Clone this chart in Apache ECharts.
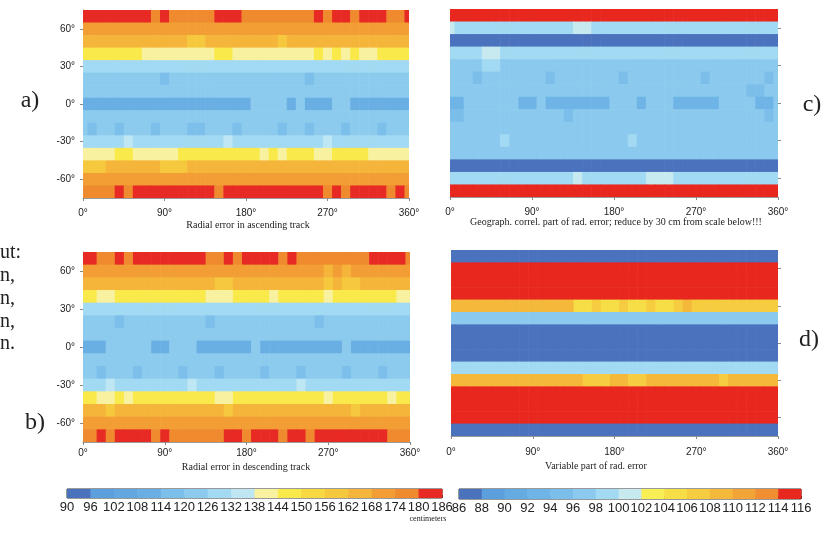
<!DOCTYPE html>
<html>
<head>
<meta charset="utf-8">
<script src="https://cdn.jsdelivr.net/npm/echarts@6/dist/echarts.min.js"></script>
<style>
  html, body { margin: 0; padding: 0; background: #fff; }
  #chart { width: 833px; height: 535px; }
</style>
</head>
<body>
<div id="chart"></div>
<script>
// Cell centres: longitude columns every 10 deg, latitude rows every 10 deg (north to south)
const lons = [0,10,20,30,40,50,60,70,80,90,100,110,120,130,140,150,160,170,180,190,200,210,220,230,240,250,260,270,280,290,300,310,320,330,340,350,360];
const lats = [70,60,50,40,30,20,10,0,-10,-20,-30,-40,-50,-60,-70];
const latTicks = [-60,-30,0,30,60];

// a) radial error, ascending track (cm)
const ascending = [
  [182,183,182,181,183,182,181,182,177,182,176,177,178,177,176,182,183,181,177,176,177,178,177,176,177,178,181,177,182,182,178,183,182,181,177,176,182],
  [171,170,171,172,171,170,171,172,171,170,171,172,171,171,170,171,172,171,170,171,172,171,170,171,171,172,171,170,171,172,171,170,171,171,172,171,171],
  [164,165,164,163,165,164,163,164,165,164,163,164,160,161,164,165,164,163,164,165,164,163,160,164,165,164,163,164,165,164,163,164,165,164,163,164,164],
  [147,148,147,146,147,148,147,142,141,142,143,142,141,142,143,147,148,142,141,142,143,142,141,142,143,142,147,142,148,142,147,142,141,147,148,147,147],
  [130,131,130,129,130,131,130,130,129,130,131,130,130,129,130,131,130,130,129,130,131,130,130,129,130,131,130,130,129,130,131,130,130,129,130,131,130],
  [123,122,121,123,122,121,123,122,121,118,122,121,123,122,121,123,122,121,123,122,121,123,122,121,123,118,121,123,122,121,123,122,121,123,122,121,123],
  [124,124,125,124,124,125,124,124,125,124,124,125,124,124,125,124,124,125,124,124,125,124,124,125,124,124,125,124,124,125,124,124,125,124,124,125,124],
  [111,110,112,111,110,111,112,110,111,112,111,110,111,112,110,111,112,111,110,121,122,121,122,111,121,110,111,112,121,122,111,110,112,111,110,111,112],
  [123,123,122,123,124,123,122,123,123,122,123,124,123,122,123,123,122,123,124,123,122,123,123,122,123,124,123,122,123,123,122,123,124,123,122,123,123],
  [121,118,121,121,118,121,121,121,118,121,121,121,118,118,121,121,121,118,121,121,121,121,118,121,121,118,121,121,121,118,121,121,121,118,121,121,121],
  [130,131,130,129,130,133,130,131,130,129,130,131,130,129,130,131,133,130,131,130,129,130,131,130,129,130,131,133,130,131,130,129,130,131,130,129,130],
  [142,141,142,143,147,148,142,141,142,143,142,147,148,147,146,147,148,147,146,147,143,147,142,147,148,147,142,141,147,148,147,146,142,141,142,143,142],
  [161,160,161,164,165,164,163,164,165,161,160,161,164,165,164,163,164,165,164,163,164,165,164,163,164,165,164,163,164,165,164,163,164,165,164,163,164],
  [171,170,171,172,171,170,171,172,171,170,171,172,171,171,170,171,172,171,170,171,172,171,170,171,171,172,171,170,171,172,171,170,171,171,172,171,171],
  [177,176,177,178,182,177,182,183,182,181,182,183,182,181,182,176,182,183,182,181,182,183,182,181,182,183,182,177,182,176,182,183,182,181,177,182,176]
];

// b) radial error, descending track (cm)
const descending = [
  [182,183,177,176,182,177,182,183,182,181,182,183,182,181,177,176,182,177,182,183,182,181,177,182,176,177,178,177,176,177,178,177,182,183,182,181,177],
  [171,170,171,172,171,170,171,172,171,170,171,172,171,171,170,171,172,171,170,171,172,171,170,171,171,172,171,166,171,166,171,170,171,171,172,171,171],
  [164,165,164,163,165,164,163,164,165,164,163,164,165,164,163,160,160,163,164,165,164,163,164,164,165,164,163,160,164,160,160,164,165,164,163,164,164],
  [147,148,142,141,147,148,147,146,147,148,147,146,147,148,142,141,142,147,148,147,146,142,147,148,147,146,147,142,147,148,147,146,147,148,147,142,141],
  [130,131,130,129,130,131,130,130,129,130,131,130,130,129,130,131,130,130,129,130,131,130,130,129,130,131,130,130,129,130,131,130,130,129,130,131,130],
  [122,121,123,122,118,121,123,122,121,123,122,121,123,122,118,121,123,122,121,123,122,121,123,122,121,123,118,121,123,122,121,123,122,121,123,122,121],
  [124,124,125,124,124,125,124,124,125,124,124,125,124,124,125,124,124,125,124,124,125,124,124,125,124,124,125,124,124,125,124,124,125,124,124,125,124],
  [111,110,112,121,122,121,122,121,111,112,121,122,121,111,110,112,111,110,111,121,111,112,110,111,112,111,110,111,112,121,111,110,112,111,110,111,112],
  [123,123,122,123,124,123,122,123,123,122,123,124,123,122,123,123,122,123,124,123,122,123,123,122,123,124,123,122,123,123,122,123,124,123,122,123,123],
  [121,121,118,121,121,121,118,121,121,121,121,118,121,121,121,118,121,121,121,121,118,121,121,121,118,121,121,121,121,118,121,121,121,118,121,121,121],
  [131,130,131,133,130,131,130,129,130,131,130,131,133,130,131,130,129,130,131,130,131,130,131,130,133,130,131,130,129,130,131,130,131,130,131,130,131],
  [147,148,142,141,147,142,147,146,147,148,147,146,147,148,147,142,141,147,148,147,146,147,148,147,146,147,148,142,147,148,147,146,147,148,142,147,148],
  [164,165,164,160,165,164,163,164,165,164,163,164,165,164,163,164,160,163,164,165,164,163,164,164,165,164,163,164,164,165,160,164,165,164,163,164,164],
  [171,170,171,172,171,170,171,172,171,170,171,172,171,171,170,171,172,171,170,171,172,171,170,171,171,172,171,170,171,172,171,170,171,171,172,171,171],
  [177,176,182,177,182,183,182,181,177,182,176,177,178,177,176,177,182,183,177,182,183,182,177,182,181,177,182,183,182,181,182,183,182,181,177,176,177]
];

// c) geographically correlated part of the radial error (cm, +30 offset)
const geoCorrelated = [
  [115,115,115,115,115,115,115,115,115,115,115,115,115,115,115,115,115,115,115,115,115,115,115,115,115,115,115,115,115,115,115,115,115,115,115,115,115],
  [100.5,99,99,99,99,99,99,99,99,99,99,99,99,99,101,101,99,99,99,99,99,99,99,99,99,99,99,99,99,99,99,99,99,99,99,99,99],
  [87,87,87,87,87,87,87,87,87,87,87,87,87,87,87,87,87,87,87,87,87,87,87,87,87,87,87,87,87,87,87,87,87,87,87,87,87],
  [98.5,98.5,98.5,98.5,101,101,98.5,98.5,98.5,98.5,98.5,98.5,98.5,98.5,98.5,98.5,98.5,98.5,98.5,98.5,98.5,98.5,98.5,98.5,98.5,98.5,98.5,98.5,98.5,98.5,98.5,98.5,98.5,98.5,98.5,98.5,98.5],
  [97,97,97,97,99,99,97,97,97,97,97,97,97,97,97,97,97,97,97,97,97,97,97,97,97,97,97,97,97,97,97,97,97,97,97,97,97],
  [97,97,97,95,97,97,97,97,97,97,97,95,97,97,97,97,97,97,97,95,97,97,97,97,97,97,97,97,95,97,97,97,97,97,97,95,97],
  [96.5,96.5,96.5,96.5,96.5,96.5,96.5,96.5,96.5,96.5,96.5,96.5,96.5,96.5,96.5,96.5,96.5,96.5,96.5,96.5,96.5,96.5,96.5,96.5,96.5,96.5,96.5,96.5,96.5,96.5,96.5,96.5,96.5,95,95,96.5,96.5],
  [93,93,97,97,97,97,97,97,93,93,97,93,93,93,93,93,93,93,97,97,97,93,97,97,97,93,93,93,93,93,97,97,97,97,93,93,97],
  [94.5,94.5,96.5,96.5,96.5,96.5,96.5,96.5,96.5,96.5,96.5,96.5,96.5,94.5,96.5,96.5,96.5,96.5,96.5,96.5,96.5,96.5,96.5,96.5,96.5,96.5,96.5,96.5,96.5,96.5,96.5,96.5,96.5,96.5,96.5,94.5,96.5],
  [97,97,97,97,97,97,97,97,97,97,97,97,97,97,97,97,97,97,97,97,97,97,97,97,97,97,97,97,97,97,97,97,97,97,97,97,97],
  [97.5,97.5,97.5,97.5,97.5,97.5,99,97.5,97.5,97.5,97.5,97.5,97.5,97.5,97.5,97.5,97.5,97.5,97.5,97.5,99,97.5,97.5,97.5,97.5,97.5,97.5,97.5,97.5,97.5,97.5,97.5,97.5,97.5,97.5,97.5,97.5],
  [97,97,97,97,97,97,97,97,97,97,97,97,97,97,97,97,97,97,97,97,97,97,97,97,97,97,97,97,97,97,97,97,97,97,97,97,97],
  [87,87,87,87,87,87,87,87,87,87,87,87,87,87,87,87,87,87,87,87,87,87,87,87,87,87,87,87,87,87,87,87,87,87,87,87,87],
  [99,99,99,99,99,99,99,99,99,99,99,99,99,99,101,99,99,99,99,99,99,99,101,101,101,99,99,99,99,99,99,99,99,99,99,99,99],
  [115,115,115,115,115,115,115,115,115,115,115,115,115,115,115,115,115,115,115,115,115,115,115,115,115,115,115,115,115,115,115,115,115,115,115,115,115]
];

// d) variable part of the radial error (cm)
const variablePart = [
  [87,87,87,87,87,87,87,87,87,87,87,87,87,87,87,87,87,87,87,87,87,87,87,87,87,87,87,87,87,87,87,87,87,87,87,87,87],
  [115,115,115,115,115,115,115,115,115,115,115,115,115,115,115,115,115,115,115,115,115,115,115,115,115,115,115,115,115,115,115,115,115,115,115,115,115],
  [115,115,115,115,115,115,115,115,115,115,115,115,115,115,115,115,115,115,115,115,115,115,115,115,115,115,115,115,115,115,115,115,115,115,115,115,115],
  [115,115,115,115,115,115,115,115,115,115,115,115,115,115,115,115,115,115,115,115,115,115,115,115,115,115,115,115,115,115,115,115,115,115,115,115,115],
  [109,109,109,109,109,109,109,109,109,109,109,109,109,109,105,105,106,105,105,106,105,105,106,105,105,106,109,107,106,107,106,107,106,107,106,107,106],
  [97,97,97,97,97,97,97,97,97,97,97,97,97,97,97,97,97,97,97,97,97,97,97,97,97,97,97,97,97,97,97,97,97,97,97,97,97],
  [87,87,87,87,87,87,87,87,87,87,87,87,87,87,87,87,87,87,87,87,87,87,87,87,87,87,87,87,87,87,87,87,87,87,87,87,87],
  [87,87,87,87,87,87,87,87,87,87,87,87,87,87,87,87,87,87,87,87,87,87,87,87,87,87,87,87,87,87,87,87,87,87,87,87,87],
  [87,87,87,87,87,87,87,87,87,87,87,87,87,87,87,87,87,87,87,87,87,87,87,87,87,87,87,87,87,87,87,87,87,87,87,87,87],
  [99,99,99,99,99,99,99,99,99,99,99,99,99,99,99,99,99,99,99,99,99,99,99,99,99,99,99,99,99,99,99,99,99,99,99,99,99],
  [109,109,109,109,109,109,109,109,109,109,109,109,109,109,109,107,107,107,109,109,107,107,109,109,109,109,109,109,109,109,107,109,109,109,109,109,109],
  [115,115,115,115,115,115,115,115,115,115,115,115,115,115,115,115,115,115,115,115,115,115,115,115,115,115,115,115,115,115,115,115,115,115,115,115,115],
  [115,115,115,115,115,115,115,115,115,115,115,115,115,115,115,115,115,115,115,115,115,115,115,115,115,115,115,115,115,115,115,115,115,115,115,115,115],
  [115,115,115,115,115,115,115,115,115,115,115,115,115,115,115,115,115,115,115,115,115,115,115,115,115,115,115,115,115,115,115,115,115,115,115,115,115],
  [87,87,87,87,87,87,87,87,87,87,87,87,87,87,87,87,87,87,87,87,87,87,87,87,87,87,87,87,87,87,87,87,87,87,87,87,87]
];

// Colour scales (class boundaries in cm)
const totalTicks = [90,96,102,108,114,120,126,132,138,144,150,156,162,168,174,180,186];
const totalColors = ['#4b72bd','#5b9fdc','#62a7e0','#6aafe3','#7bbfea','#8ccbee','#a2d9f3','#bfe6f3',
                     '#f7f1a0','#f9e94a','#f8d942','#f6c83e','#f5b53b','#f29e34','#ef8a2f','#e82a24'];
const variableTicks = [86,88,90,92,94,96,98,100,102,104,106,108,110,112,114,116];
const variableColors = ['#4b72bd','#5b9fdc','#64abe1','#6fb4e6','#7bbeea','#8bcaee','#a2d9f3','#c6eaf0',
                        '#f8ee55','#f8de46','#f6cc40','#f4b83b','#f2a436','#f08e31','#e8271f'];

function piecesFrom(ticks, colors) {
  return colors.map(function (c, i) {
    const p = { gte: ticks[i], color: c };
    if (i === colors.length - 1) p.lte = ticks[i + 1]; else p.lt = ticks[i + 1];
    return p;
  });
}
function cellsFrom(matrix) {
  const out = [];
  matrix.forEach(function (row, r) {
    row.forEach(function (v, c) { out.push([lons[c], lats[r], v]); });
  });
  return out;
}
function barCells(ticks) {
  const out = [];
  for (let i = 0; i < ticks.length - 1; i++) out.push([ticks[i], ticks[i + 1], (ticks[i] + ticks[i + 1]) / 2]);
  return out;
}

// each grid cell spans +-5 deg around its centre, clipped to the map frame
function renderCell(params, api) {
  const lon = api.value(0), lat = api.value(1);
  const p0 = api.coord([lon - 5, lat + 5]);
  const p1 = api.coord([lon + 5, lat - 5]);
  const cs = params.coordSys;
  const shape = echarts.graphic.clipRectByRect(
    { x: p0[0], y: p0[1], width: p1[0] - p0[0] + 0.6, height: p1[1] - p0[1] + 0.6 },
    { x: cs.x, y: cs.y, width: cs.width, height: cs.height });
  if (!shape) return;
  return { type: 'rect', shape: shape, style: { fill: api.visual('color') } };
}
function renderBarCell(params, api) {
  const p0 = api.coord([api.value(0), 1]);
  const p1 = api.coord([api.value(1), 0]);
  return { type: 'rect', shape: { x: p0[0], y: p0[1], width: p1[0] - p0[0] + 0.5, height: p1[1] - p0[1] },
           style: { fill: api.visual('color') } };
}

const tickFont = { fontFamily: 'Liberation Sans, Arial, sans-serif', fontSize: 10, color: '#222' };
const serif = 'Liberation Serif, Times New Roman, serif';

function lonAxis(gridIndex, margin) {
  return {
    type: 'value', gridIndex: gridIndex, min: 0, max: 360, interval: 90,
    axisLine: { show: true, onZero: false, lineStyle: { color: '#9a9a9a', width: 1 } },
    axisTick: { show: true, length: 3, lineStyle: { color: '#888' } },
    axisLabel: Object.assign({ margin: margin, formatter: '{value}°' }, tickFont),
    splitLine: { show: false }
  };
}
function latAxis(gridIndex, right) {
  return {
    type: 'value', gridIndex: gridIndex, min: -75, max: 75, position: right ? 'right' : 'left',
    axisLine: { show: !right, onZero: false, lineStyle: { color: '#9a9a9a', width: 1 } },
    axisTick: { show: true, length: 3, customValues: latTicks, lineStyle: { color: '#888' } },
    axisLabel: right ? { show: false } :
      Object.assign({ margin: 8, customValues: latTicks, formatter: '{value}°' }, tickFont),
    splitLine: { show: false }
  };
}
function barAxis(gridIndex, ticks) {
  return {
    type: 'value', gridIndex: gridIndex, min: ticks[0], max: ticks[ticks.length - 1],
    interval: ticks[1] - ticks[0],
    axisLine: { show: false, onZero: false },
    axisTick: { show: true, inside: true, length: 3, lineStyle: { color: '#333' } },
    axisLabel: { margin: 3, fontFamily: 'Liberation Sans, Arial, sans-serif', fontSize: 13, color: '#222' },
    splitLine: { show: false }
  };
}
function unitAxis(gridIndex) {
  return { type: 'value', gridIndex: gridIndex, min: 0, max: 1, show: false };
}
function text(x, y, str, size, align, family) {
  return { type: 'text', x: x, y: y, z: 10,
    style: { text: str, fontSize: size, fontFamily: family || serif, fill: '#222',
             align: align || 'center', verticalAlign: 'middle' } };
}

const chart = echarts.init(document.getElementById('chart'), null, { renderer: 'canvas' });
chart.setOption({
  backgroundColor: '#ffffff',
  animation: false,
  grid: [
    { left: 83, top: 10, width: 326, height: 188 },
    { left: 83, top: 252, width: 327, height: 190 },
    { left: 450, top: 9, width: 328, height: 188 },
    { left: 451, top: 250, width: 327, height: 186 },
    { left: 67, top: 489, width: 375, height: 9, show: true, borderColor: '#333', borderWidth: 1, backgroundColor: 'transparent' },
    { left: 459, top: 489, width: 342, height: 10, show: true, borderColor: '#333', borderWidth: 1, backgroundColor: 'transparent' }
  ],
  xAxis: [lonAxis(0, 10), lonAxis(1, 6), lonAxis(2, 10), lonAxis(3, 11), barAxis(4, totalTicks), barAxis(5, variableTicks)],
  yAxis: [latAxis(0, false), latAxis(1, false), latAxis(2, true), latAxis(3, true), unitAxis(4), unitAxis(5)],
  visualMap: [
    { type: 'piecewise', show: false, dimension: 2, seriesIndex: [0, 1, 4], pieces: piecesFrom(totalTicks, totalColors) },
    { type: 'piecewise', show: false, dimension: 2, seriesIndex: [2, 3, 5], pieces: piecesFrom(variableTicks, variableColors) }
  ],
  series: [
    { name: 'Radial error in ascending track', type: 'custom', xAxisIndex: 0, yAxisIndex: 0, renderItem: renderCell, data: cellsFrom(ascending) },
    { name: 'Radial error in descending track', type: 'custom', xAxisIndex: 1, yAxisIndex: 1, renderItem: renderCell, data: cellsFrom(descending) },
    { name: 'Geograph. correl. part', type: 'custom', xAxisIndex: 2, yAxisIndex: 2, renderItem: renderCell, data: cellsFrom(geoCorrelated) },
    { name: 'Variable part', type: 'custom', xAxisIndex: 3, yAxisIndex: 3, renderItem: renderCell, data: cellsFrom(variablePart) },
    { name: 'scale total', type: 'custom', xAxisIndex: 4, yAxisIndex: 4, renderItem: renderBarCell, data: barCells(totalTicks) },
    { name: 'scale variable', type: 'custom', xAxisIndex: 5, yAxisIndex: 5, renderItem: renderBarCell, data: barCells(variableTicks) }
  ],
  graphic: [
    text(248, 225, 'Radial error in ascending track', 10),
    text(616, 222, 'Geograph. correl. part of rad. error; reduce by 30 cm from scale below!!!', 10),
    text(246, 467, 'Radial error in descending track', 10),
    text(596, 466, 'Variable part of rad. error', 10),
    text(428, 519, 'centimeters', 8),
    text(30, 101, 'a)', 24),
    text(35, 423, 'b)', 24),
    text(812, 105, 'c)', 24),
    text(809, 340, 'd)', 24),
    text(0, 253, 'ut:', 20, 'left'),
    text(0, 276, 'n,', 20, 'left'),
    text(0, 299, 'n,', 20, 'left'),
    text(0, 322, 'n,', 20, 'left'),
    text(0, 344, 'n.', 20, 'left')
  ]
});
</script>
</body>
</html>
